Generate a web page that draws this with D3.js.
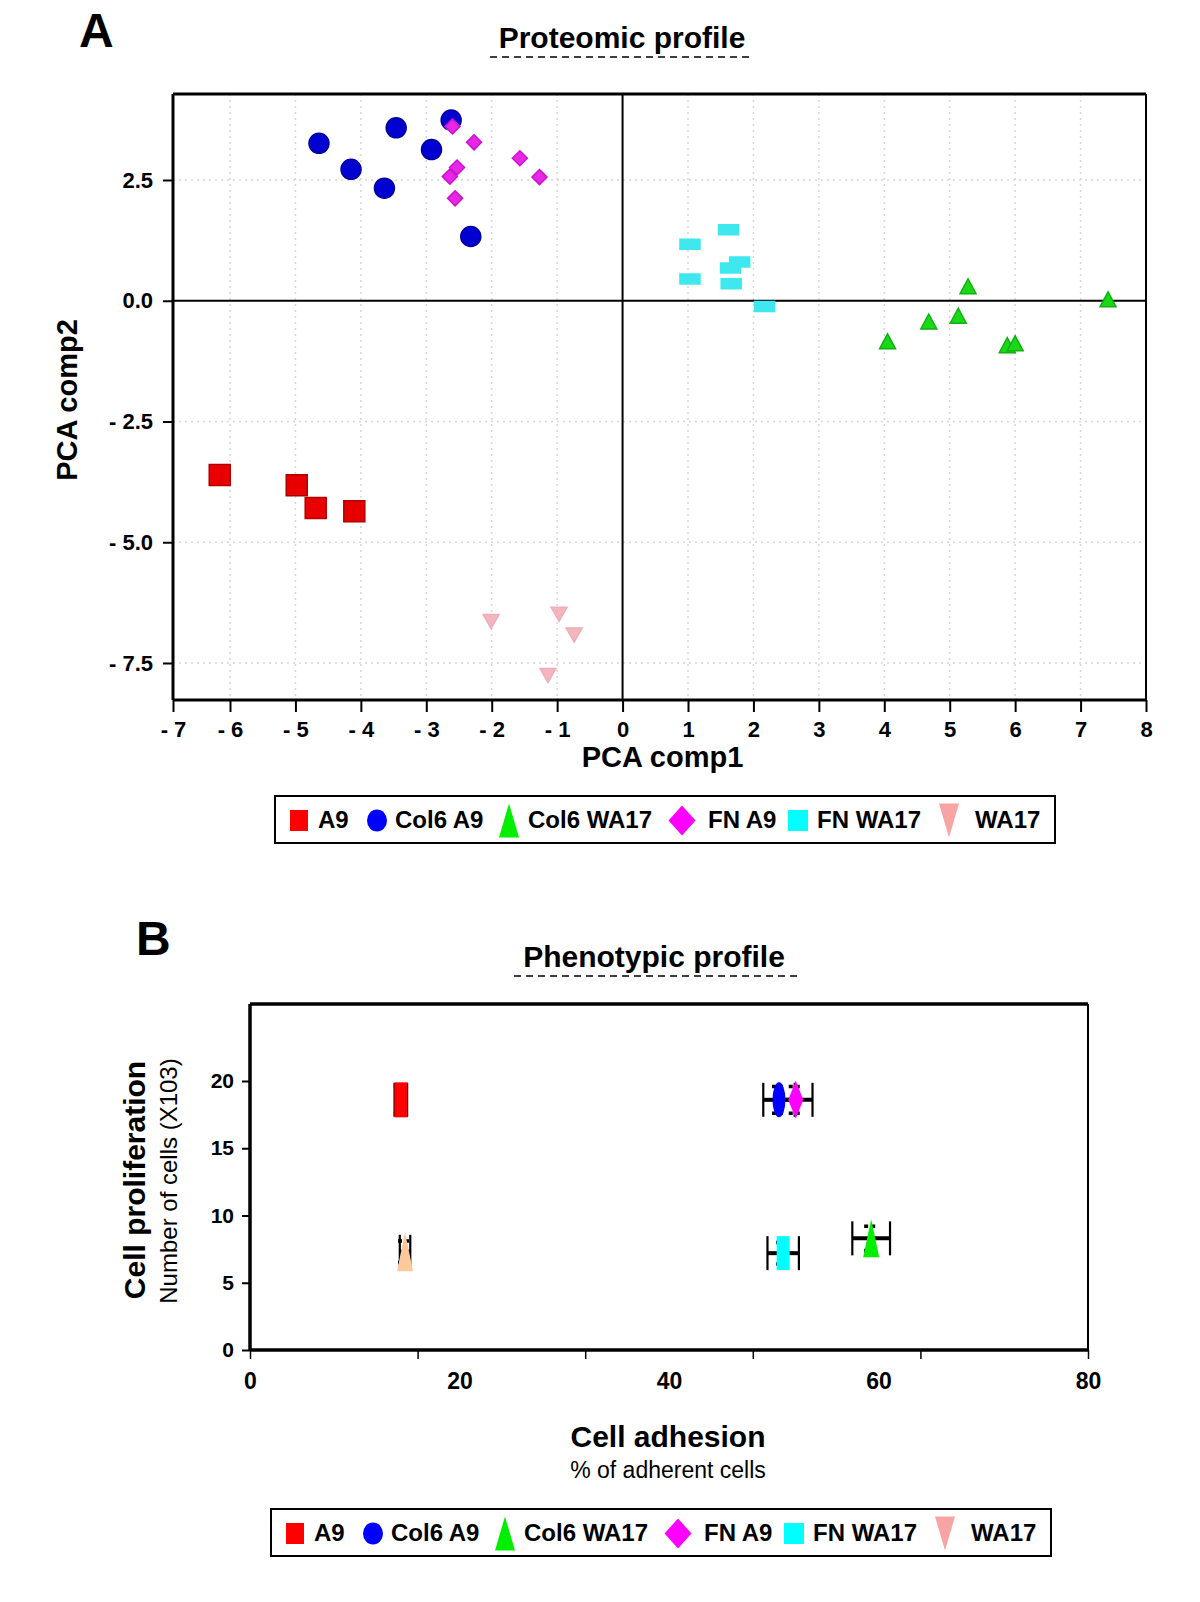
<!DOCTYPE html>
<html>
<head>
<meta charset="utf-8">
<script src="https://cdn.jsdelivr.net/npm/d3@7"></script>
<style>
  body { margin: 0; background: #fff; }
  svg { display: block; }
  text { font-family: 'Liberation Sans', Arial, Helvetica, sans-serif; font-weight: bold; fill: #000; }
</style>
</head>
<body>
<svg width="1200" height="1602"></svg>
<script>
const groups = ['A9', 'Col6 A9', 'Col6 WA17', 'FN A9', 'FN WA17', 'WA17']

// panel A - PCA scores, one pair per group
const a9_pc1 = [-6.18, -4.98, -4.69, -4.10],
    a9_pc2 = [-3.61, -3.82, -4.29, -4.36]
const col6a9_pc1 = [-4.64, -3.46, -4.15, -3.64, -2.92, -2.62, -2.32],
    col6a9_pc2 = [3.26, 3.58, 2.72, 2.33, 3.13, 3.74, 1.33]
const col6wa17_pc1 = [4.05, 4.68, 5.13, 5.28, 5.88, 6.00, 7.42],
    col6wa17_pc2 = [-0.84, -0.43, -0.31, 0.30, -0.92, -0.88, 0.03]
const fna9_pc1 = [-2.60, -2.27, -1.57, -1.27, -2.53, -2.64, -2.56],
    fna9_pc2 = [3.61, 3.28, 2.95, 2.56, 2.76, 2.57, 2.12]
const fnwa17_pc1 = [1.03, 1.62, 1.03, 1.65, 1.79, 1.66, 2.17],
    fnwa17_pc2 = [1.17, 1.47, 0.45, 0.68, 0.80, 0.35, -0.12]
const wa17_pc1 = [-2.01, -0.97, -0.74, -1.14],
    wa17_pc2 = [-6.64, -6.49, -6.92, -7.76]

const pc1 = [a9_pc1, col6a9_pc1, col6wa17_pc1, fna9_pc1, fnwa17_pc1, wa17_pc1],
    pc2 = [a9_pc2, col6a9_pc2, col6wa17_pc2, fna9_pc2, fnwa17_pc2, wa17_pc2]

// panel B - means and errors
const adhesion = [14.4, 50.5, 59.3, 52.1, 50.9, 14.8],
    adhesion_err = [0.6, 1.5, 1.8, 1.6, 1.5, 0.5],
    proliferation = [18.6, 18.6, 8.3, 18.6, 7.2, 7.3],
    proliferation_err = [1.0, 1.0, 0.9, 1.0, 0.8, 0.8]

const a_xticks = d3.range(-7, 9),
    a_yticks = [-7.5, -5, -2.5, 0, 2.5],
    b_xticks = [0, 16, 32, 48, 64, 80],
    b_xlabels = [0, 20, 40, 60, 80],
    b_yticks = [0, 5, 10, 15, 20]

// marker looks per panel
const look_a = {
    'A9': { shape: 'rect', w: 21, h: 21, fill: '#e80000', stroke: '#b00000' },
    'Col6 A9': { shape: 'ellipse', w: 20, h: 20, fill: '#0000d0', stroke: '#0000a0' },
    'Col6 WA17': { shape: 'tri', w: 16, h: 15, fill: '#18d818', stroke: '#10b010' },
    'FN A9': { shape: 'diamond', w: 15, h: 15, fill: '#e628e6', stroke: '#d010d0' },
    'FN WA17': { shape: 'rect', w: 20, h: 10, fill: '#3ee8ee', stroke: '#3ee8ee' },
    'WA17': { shape: 'tridown', w: 16, h: 14, fill: '#f2aab4', stroke: '#eba0aa' }
}
const look_b = {
    'A9': { shape: 'rect', w: 13, h: 35, fill: '#ff0000' },
    'Col6 A9': { shape: 'ellipse', w: 13, h: 35, fill: '#0000ff' },
    'Col6 WA17': { shape: 'tri', w: 16, h: 38, fill: '#00ee00' },
    'FN A9': { shape: 'diamond', w: 15, h: 38, fill: '#ff00ff' },
    'FN WA17': { shape: 'rect', w: 13, h: 34, fill: '#00ffff' },
    'WA17': { shape: 'tri', w: 16, h: 39, fill: '#fbc99a' }
}
const look_legend = {
    'A9': { shape: 'rect', w: 18, h: 21, fill: '#ff0000' },
    'Col6 A9': { shape: 'ellipse', w: 20, h: 22, fill: '#0000ff' },
    'Col6 WA17': { shape: 'tri', w: 20, h: 34, fill: '#00ee00' },
    'FN A9': { shape: 'diamond', w: 27, h: 30, fill: '#ff00ff' },
    'FN WA17': { shape: 'rect', w: 20, h: 21, fill: '#00ffff' },
    'WA17': { shape: 'tridown', w: 20, h: 34, fill: '#f8a4a4' }
}

const svg = d3.select('svg')

function shapePath(s) {
    const w = s.w / 2, h = s.h / 2
    if (s.shape === 'rect') return `M${-w},${-h}H${w}V${h}H${-w}Z`
    if (s.shape === 'tri') return `M0,${-h}L${w},${h}L${-w},${h}Z`
    if (s.shape === 'tridown') return `M${-w},${-h}L${w},${-h}L0,${h}Z`
    if (s.shape === 'diamond') return `M0,${-h}L${w},0L0,${h}L${-w},0Z`
    return `M${-w},0A${w},${h} 0 1,0 ${w},0A${w},${h} 0 1,0 ${-w},0Z`
}

function panelLabel(txt, x, y) {
    svg.append('text').attr('x', x).attr('y', y).style('font-size', '48px').text(txt)
}

function panelTitle(txt, cx, y, x1, x2) {
    svg.append('text').attr('x', cx).attr('y', y)
        .attr('text-anchor', 'middle').style('font-size', '30px').text(txt)
    svg.append('line').attr('x1', x1).attr('x2', x2).attr('y1', y + 9).attr('y2', y + 9)
        .style('stroke', '#000').style('stroke-width', 1.6).style('stroke-dasharray', '7,5')
}

function legend(x, y) {
    const offs_sym = [24, 102, 234, 407, 523, 674],
        offs_txt = [43, 120, 253, 433, 542, 700]
    const g = svg.append('g').attr('transform', `translate(${x},${y})`)
    g.append('rect').attr('width', 780).attr('height', 47)
        .style('fill', '#fff').style('stroke', '#000').style('stroke-width', 2)
    groups.forEach(function (name, i) {
        g.append('path').attr('d', shapePath(look_legend[name]))
            .attr('transform', `translate(${offs_sym[i]},${24.5})`)
            .style('fill', look_legend[name].fill)
        g.append('text').attr('x', offs_txt[i]).attr('y', 32)
            .style('font-size', '24px').text(name)
    })
}

function signed(d, digits) {
    const v = digits ? Math.abs(d).toFixed(digits) : Math.abs(d)
    return d < 0 ? '- ' + v : v
}

//
// panel A
//
const A = { left: 173, right: 1146, top: 94, bottom: 700 }
const xA = d3.scaleLinear().domain([-7, -6, 8]).range([A.left, 230, A.right]),
    yA = d3.scaleLinear().domain([-7.5, 2.5]).range([663, 180])

panelLabel('A', 79, 47)
panelTitle('Proteomic profile', 622, 48, 490, 754)

const gA = svg.append('g')

// faint dotted grid
gA.selectAll('.vgrid')
    .data(a_xticks.filter((d) => d > -7 && d < 8 && d !== 0))
    .enter().append('line')
    .attr('x1', (d) => xA(d)).attr('x2', (d) => xA(d))
    .attr('y1', A.top).attr('y2', A.bottom)
    .style('stroke', '#d6d6d6').style('stroke-width', 1.5).style('stroke-dasharray', '2,4')
gA.selectAll('.hgrid')
    .data(a_yticks.filter((d) => d !== 0))
    .enter().append('line')
    .attr('x1', A.left).attr('x2', A.right)
    .attr('y1', (d) => yA(d)).attr('y2', (d) => yA(d))
    .style('stroke', '#d6d6d6').style('stroke-width', 1.5).style('stroke-dasharray', '2,4')

// zero lines
gA.append('line').attr('x1', xA(0)).attr('x2', xA(0)).attr('y1', A.top).attr('y2', A.bottom)
    .style('stroke', '#000').style('stroke-width', 2)
gA.append('line').attr('x1', A.left).attr('x2', A.right).attr('y1', yA(0)).attr('y2', yA(0))
    .style('stroke', '#000').style('stroke-width', 2)

// frame
gA.append('line').attr('x1', A.left).attr('x2', A.right).attr('y1', A.top).attr('y2', A.top)
    .style('stroke', '#000').style('stroke-width', 3)
gA.append('line').attr('x1', A.right).attr('x2', A.right).attr('y1', A.top).attr('y2', A.bottom)
    .style('stroke', '#000').style('stroke-width', 2)

const axA_x = gA.append('g').attr('transform', `translate(0,${A.bottom})`)
    .call(d3.axisBottom(xA).tickValues(a_xticks).tickSize(12).tickPadding(9)
        .tickFormat((d) => signed(d)))
const axA_y = gA.append('g').attr('transform', `translate(${A.left},0)`)
    .call(d3.axisLeft(yA).tickValues(a_yticks).tickSize(10).tickPadding(10)
        .tickFormat((d) => signed(d, 1)))
axA_x.select('.domain').attr('d', `M${A.left},0H${A.right}`)
    .style('stroke-width', 3)
axA_y.select('.domain').attr('d', `M0,${A.top}V${A.bottom}`)
    .style('stroke-width', 3)
axA_x.selectAll('.tick line').style('stroke-width', 2)
axA_y.selectAll('.tick line').style('stroke-width', 2)
axA_x.selectAll('text').style('font-size', '22px')
axA_y.selectAll('text').style('font-size', '22px')
axA_x.attr('font-family', null).attr('font-size', null)
axA_y.attr('font-family', null).attr('font-size', null)

// points
groups.forEach(function (name, i) {
    const pts = pc1[i].map((v, j) => ({ x: v, y: pc2[i][j] }))
    const lk = look_a[name]
    gA.selectAll('.pt' + i)
        .data(pts)
        .enter().append('path')
        .attr('d', shapePath(lk))
        .attr('transform', (d) => `translate(${xA(d.x)},${yA(d.y)})`)
        .style('fill', lk.fill)
        .style('stroke', lk.stroke)
        .style('stroke-width', 1.5)
        .style('opacity', name === 'WA17' ? 0.85 : 1)
})

svg.append('text').attr('x', (A.left + A.right) / 2 + 3).attr('y', 767)
    .attr('text-anchor', 'middle').style('font-size', '29px').text('PCA comp1')
svg.append('text').attr('transform', 'translate(77,400)rotate(-90)')
    .attr('text-anchor', 'middle').style('font-size', '29px').text('PCA comp2')

legend(275, 796)

//
// panel B
//
const B = { left: 250, right: 1088, top: 1004, bottom: 1350 }
const xB = d3.scaleLinear().domain([0, 80]).range([B.left, B.right]),
    yB = d3.scaleLinear().domain([0, 20]).range([B.bottom, 1081])

panelLabel('B', 136, 955)
panelTitle('Phenotypic profile', 654, 967, 514, 799)

const gB = svg.append('g')
gB.append('line').attr('x1', B.left).attr('x2', B.right).attr('y1', B.top).attr('y2', B.top)
    .style('stroke', '#000').style('stroke-width', 3.5)
gB.append('line').attr('x1', B.right).attr('x2', B.right).attr('y1', B.top).attr('y2', B.bottom)
    .style('stroke', '#000').style('stroke-width', 2)

const axB_x = gB.append('g').attr('transform', `translate(0,${B.bottom})`)
    .call(d3.axisBottom(xB).tickValues(b_xticks).tickSize(9).tickFormat(''))
const axB_xl = gB.append('g').attr('transform', `translate(0,${B.bottom})`)
    .call(d3.axisBottom(xB).tickValues(b_xlabels).tickSize(0).tickPadding(23))
const axB_y = gB.append('g').attr('transform', `translate(${B.left},0)`)
    .call(d3.axisLeft(yB).tickValues(b_yticks).tickSize(8).tickPadding(8))
axB_x.select('.domain').attr('d', `M${B.left},0H${B.right}`).style('stroke-width', 3.5)
axB_xl.select('.domain').remove()
axB_y.select('.domain').attr('d', `M0,${B.top}V${B.bottom}`).style('stroke-width', 3.5)
axB_x.selectAll('.tick line').style('stroke-width', 1.5)
axB_y.selectAll('.tick line').style('stroke-width', 2)
axB_xl.selectAll('text').style('font-size', '23px')
axB_y.selectAll('text').style('font-size', '21px')
;[axB_x, axB_xl, axB_y].forEach((a) => a.attr('font-family', null).attr('font-size', null))

const bdata = groups.map((name, i) => ({
    name: name,
    x: adhesion[i], xe: adhesion_err[i],
    y: proliferation[i], ye: proliferation_err[i]
}))

// x error bars
gB.selectAll('.xerr').data(bdata).enter().append('line')
    .attr('x1', (d) => xB(d.x - d.xe)).attr('x2', (d) => xB(d.x + d.xe))
    .attr('y1', (d) => yB(d.y)).attr('y2', (d) => yB(d.y))
    .style('stroke', '#000').style('stroke-width', 4)
gB.selectAll('.xcap').data(bdata.flatMap((d) => [
        { x: d.x - d.xe, y: d.y }, { x: d.x + d.xe, y: d.y }
    ])).enter().append('line')
    .attr('x1', (d) => xB(d.x)).attr('x2', (d) => xB(d.x))
    .attr('y1', (d) => yB(d.y) - 17).attr('y2', (d) => yB(d.y) + 17)
    .style('stroke', '#000').style('stroke-width', 2.2)
// y error caps, dashed
gB.selectAll('.ycap').data(bdata.flatMap((d) => [
        { x: d.x, y: d.y - d.ye }, { x: d.x, y: d.y + d.ye }
    ])).enter().append('line')
    .attr('x1', (d) => xB(d.x) - 7).attr('x2', (d) => xB(d.x) + 7)
    .attr('y1', (d) => yB(d.y)).attr('y2', (d) => yB(d.y))
    .style('stroke', '#000').style('stroke-width', 3.5).style('stroke-dasharray', '4,3')

gB.selectAll('.mk').data(bdata).enter().append('path')
    .attr('d', (d) => shapePath(look_b[d.name]))
    .attr('transform', (d) => `translate(${xB(d.x)},${yB(d.y)})`)
    .style('fill', (d) => look_b[d.name].fill)

svg.append('text').attr('transform', 'translate(145,1180)rotate(-90)')
    .attr('text-anchor', 'middle').style('font-size', '30px').text('Cell proliferation')
svg.append('text').attr('transform', 'translate(177,1181)rotate(-90)')
    .attr('text-anchor', 'middle').style('font-size', '24px').style('font-weight', 'normal')
    .text('Number of cells (X103)')
svg.append('text').attr('x', 668).attr('y', 1447)
    .attr('text-anchor', 'middle').style('font-size', '30px').text('Cell adhesion')
svg.append('text').attr('x', 668).attr('y', 1478)
    .attr('text-anchor', 'middle').style('font-size', '23px').style('font-weight', 'normal')
    .text('% of adherent cells')

legend(271, 1509)
</script>
</body>
</html>
